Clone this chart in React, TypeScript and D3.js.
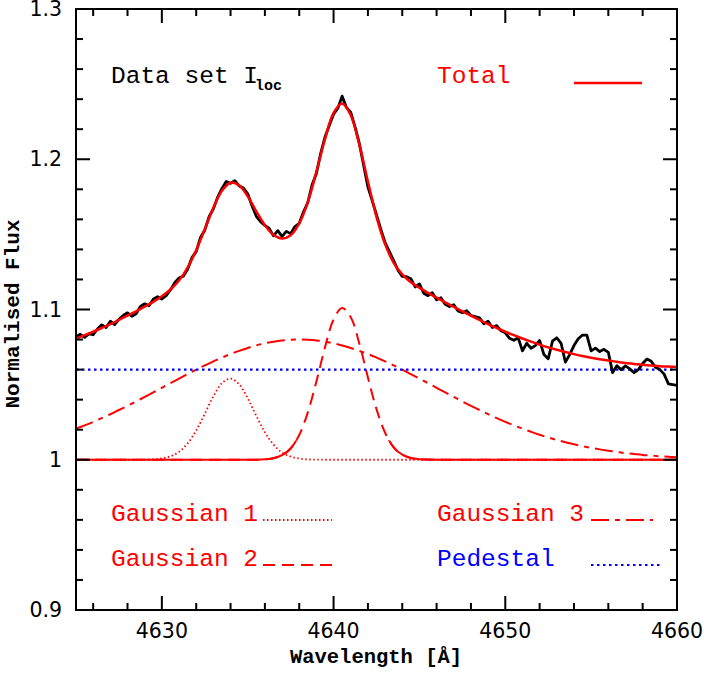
import React from 'react';
import * as d3 from 'd3';

// ---- chart values ----
const WAVE_DOMAIN = [4625, 4660];
const FLUX_DOMAIN = [0.9, 1.3];

// model components, sampled on a 0.5 A grid starting at 4625 A
const MODEL_START = 4625;
const MODEL_STEP = 0.5;
const CONTINUUM = 1.0;
const PEDESTAL = 0.06;

const gauss1 = [
  0, 0, 0, 0, 0, 0, 0, 0,
  0.0001, 0.0003, 0.0009, 0.0023, 0.0053, 0.0109, 0.0195, 0.0306, 0.0422, 0.0510,
  0.0540, 0.0502, 0.0409, 0.0292, 0.0183, 0.0101, 0.0048, 0.0021, 0.0008, 0.0002, 0.0001,
  0, 0, 0, 0, 0, 0, 0, 0, 0, 0, 0, 0, 0, 0, 0, 0, 0, 0, 0, 0, 0,
  0, 0, 0, 0, 0, 0, 0, 0, 0, 0, 0, 0, 0, 0, 0, 0, 0, 0, 0, 0, 0,
];

const gauss2 = [
  0, 0, 0, 0, 0, 0, 0, 0, 0, 0, 0, 0, 0, 0, 0, 0, 0, 0, 0, 0, 0, 0,
  0.0003, 0.0010, 0.0030, 0.0075, 0.0165, 0.0315, 0.0521, 0.0748, 0.0933, 0.1010,
  0.0949, 0.0774, 0.0548, 0.0337, 0.0180, 0.0083, 0.0034, 0.0012, 0.0004, 0.0001,
  0, 0, 0, 0, 0, 0, 0, 0, 0, 0, 0, 0, 0, 0, 0, 0, 0, 0, 0, 0, 0, 0, 0, 0, 0, 0, 0, 0, 0,
];

const gauss3 = [
  0.0207, 0.0229, 0.0252, 0.0277, 0.0303, 0.0331, 0.0359, 0.0388, 0.0418, 0.0448,
  0.0479, 0.0510, 0.0540, 0.0570, 0.0600, 0.0628, 0.0655, 0.0680, 0.0704, 0.0725,
  0.0744, 0.0761, 0.0775, 0.0786, 0.0794, 0.0798, 0.0800, 0.0798, 0.0794, 0.0786,
  0.0775, 0.0761, 0.0744, 0.0725, 0.0704, 0.0680, 0.0655, 0.0628, 0.0600, 0.0570,
  0.0540, 0.0510, 0.0479, 0.0448, 0.0418, 0.0388, 0.0359, 0.0331, 0.0303, 0.0277,
  0.0252, 0.0229, 0.0207, 0.0186, 0.0166, 0.0148, 0.0132, 0.0117, 0.0103, 0.0090,
  0.0079, 0.0069, 0.0060, 0.0052, 0.0044, 0.0038, 0.0032, 0.0028, 0.0023, 0.0020,
  0.0017,
];

// observed spectrum, 0.25 A steps from 4625 A
const DATA_START = 4625;
const DATA_STEP = 0.25;
const fluxIloc = [
  1.0818, 1.0835, 1.0815, 1.0838, 1.0832, 1.0870, 1.0898, 1.0880, 1.0922, 1.0900,
  1.0935, 1.0960, 1.0978, 1.0955, 1.0972, 1.1020, 1.1038, 1.1025, 1.1068, 1.1085,
  1.1070, 1.1092, 1.1130, 1.1178, 1.1210, 1.1222, 1.1268, 1.1345, 1.1385, 1.1480,
  1.1528, 1.1618, 1.1670, 1.1748, 1.1806, 1.1852, 1.1840, 1.1858, 1.1822, 1.1808,
  1.1770, 1.1690, 1.1620, 1.1585, 1.1560, 1.1540, 1.1490, 1.1525, 1.1487, 1.1520,
  1.1505, 1.1552, 1.1574, 1.1650, 1.1712, 1.1830, 1.1905, 1.2040, 1.2148, 1.2225,
  1.2300, 1.2340, 1.2420, 1.2345, 1.2312, 1.2215, 1.2105, 1.1960, 1.1815, 1.1725,
  1.1630, 1.1535, 1.1445, 1.1385, 1.1325, 1.1262, 1.1220, 1.1218, 1.1205, 1.1150,
  1.1170, 1.1108, 1.1092, 1.1112, 1.1065, 1.1078, 1.1035, 1.1020, 1.1032, 1.0990,
  1.0978, 1.0992, 1.0960, 1.0952, 1.0945, 1.0905, 1.0922, 1.0880, 1.0893, 1.0858,
  1.0845, 1.0808, 1.0795, 1.0812, 1.0725, 1.0775, 1.0742, 1.0760, 1.0794, 1.0700,
  1.0672, 1.0790, 1.0812, 1.0775, 1.0650, 1.0700, 1.0760, 1.0805, 1.0830, 1.0830,
  1.0725, 1.0743, 1.0720, 1.0735, 1.0715, 1.0580, 1.0626, 1.0600, 1.0625, 1.0605,
  1.0580, 1.0600, 1.0640, 1.0670, 1.0655, 1.0615, 1.0600, 1.0570, 1.0505, 1.0500,
  1.0495,
];

const xMajorTicks = [4630, 4640, 4650, 4660];
const xMinorTicks = [4626, 4628, 4632, 4634, 4636, 4638, 4642, 4644, 4646, 4648, 4652, 4654, 4656, 4658];
const yMajorTicks = [0.9, 1, 1.1, 1.2, 1.3];
const yMinorTicks = [0.92, 0.94, 0.96, 0.98, 1.02, 1.04, 1.06, 1.08, 1.12, 1.14, 1.16, 1.18, 1.22, 1.24, 1.26, 1.28];

// ---- layout ----
const W = 704;
const H = 675;
const LEFT = 76, RIGHT = 677, TOP = 9, BOTTOM = 610;
const RED = '#ff0000';
const BLUE = '#0000ff';
const MONO = '"Liberation Mono", "DejaVu Sans Mono", monospace';
const SANS = '"DejaVu Sans", sans-serif';

export default function App() {
  const x = d3.scaleLinear().domain(WAVE_DOMAIN).range([LEFT, RIGHT]);
  const y = d3.scaleLinear().domain(FLUX_DOMAIN).range([BOTTOM, TOP]);

  const modelWave = gauss1.map((_, i) => MODEL_START + i * MODEL_STEP);
  const dataWave = fluxIloc.map((_, i) => DATA_START + i * DATA_STEP);
  const total = gauss1.map((g, i) => CONTINUUM + PEDESTAL + g + gauss2[i] + gauss3[i]);

  const modelLine = d3.line<number>()
    .x((_, i) => x(modelWave[i]))
    .y(v => y(v))
    .curve(d3.curveCatmullRom.alpha(0.5));
  const offsetLine = (arr: number[]) => modelLine(arr.map(v => CONTINUUM + v)) || '';

  const dataLine = d3.line<number>()
    .x((_, i) => x(dataWave[i]))
    .y(v => y(v));

  const fmt = d3.format('~g');
  const MAJ = 14, MIN = 7;

  return (
    <svg width={W} height={H} style={{ position: 'absolute', left: 0, top: 0, background: '#fff' }}>
      <defs>
        <clipPath id="plot-clip">
          <rect x={LEFT} y={TOP} width={RIGHT - LEFT} height={BOTTOM - TOP} />
        </clipPath>
        {/* near the continuum the narrow component is drawn solid */}
        <clipPath id="base-clip">
          <rect x={LEFT} y={y(1.013)} width={RIGHT - LEFT} height={y(0.99) - y(1.013)} />
        </clipPath>
      </defs>

      <g clipPath="url(#plot-clip)" fill="none">
        {/* components */}
        <path d={offsetLine(gauss1)} stroke={RED} strokeWidth={1.8} strokeDasharray="1.5 2.5" />
        <path d={offsetLine(gauss2)} stroke={RED} strokeWidth={2} strokeDasharray="12 7" />
        <path d={offsetLine(gauss2)} stroke={RED} strokeWidth={2} clipPath="url(#base-clip)" />
        <path d={offsetLine(gauss3)} stroke={RED} strokeWidth={2} strokeDasharray="18 6 5 6" />
        <line x1={x(WAVE_DOMAIN[0])} x2={x(WAVE_DOMAIN[1])} y1={y(CONTINUUM + PEDESTAL)} y2={y(CONTINUUM + PEDESTAL)}
          stroke={BLUE} strokeWidth={2.2} strokeDasharray="2.5 3.5" />
        {/* data + total fit */}
        <path d={dataLine(fluxIloc) || ''} stroke="#000" strokeWidth={2.8} strokeLinejoin="round" />
        <path d={modelLine(total) || ''} stroke={RED} strokeWidth={2.5} />
      </g>

      {/* frame and ticks */}
      <g stroke="#000" strokeWidth={2}>
        <rect x={LEFT} y={TOP} width={RIGHT - LEFT} height={BOTTOM - TOP} fill="none" />
        {xMajorTicks.map(t => (
          <g key={'xM' + t}>
            <line x1={x(t)} x2={x(t)} y1={BOTTOM} y2={BOTTOM - MAJ} />
            <line x1={x(t)} x2={x(t)} y1={TOP} y2={TOP + MAJ} />
          </g>
        ))}
        {xMinorTicks.map(t => (
          <g key={'xm' + t}>
            <line x1={x(t)} x2={x(t)} y1={BOTTOM} y2={BOTTOM - MIN} />
            <line x1={x(t)} x2={x(t)} y1={TOP} y2={TOP + MIN} />
          </g>
        ))}
        {yMajorTicks.map(t => (
          <g key={'yM' + t}>
            <line x1={LEFT} x2={LEFT + MAJ} y1={y(t)} y2={y(t)} />
            <line x1={RIGHT} x2={RIGHT - MAJ} y1={y(t)} y2={y(t)} />
          </g>
        ))}
        {yMinorTicks.map(t => (
          <g key={'ym' + t}>
            <line x1={LEFT} x2={LEFT + MIN} y1={y(t)} y2={y(t)} />
            <line x1={RIGHT} x2={RIGHT - MIN} y1={y(t)} y2={y(t)} />
          </g>
        ))}
      </g>

      {/* tick labels */}
      <g fontFamily={SANS} fontSize={20.5} fill="#000">
        {xMajorTicks.map(t => (
          <text key={'xl' + t} x={x(t)} y={BOTTOM + 28} textAnchor="middle">{fmt(t)}</text>
        ))}
        {yMajorTicks.map(t => (
          <text key={'yl' + t} x={62} y={y(t) + 7} textAnchor="end">{fmt(t)}</text>
        ))}
      </g>

      {/* axis titles */}
      <text x={376} y={663} textAnchor="middle" fontFamily={MONO} fontWeight="bold" fontSize={20.5}>
        Wavelength [Å]
      </text>
      <text transform="translate(19,314) rotate(-90)" textAnchor="middle" fontFamily={MONO} fontWeight="bold" fontSize={21}>
        Normalised Flux
      </text>

      {/* annotations / legend */}
      <g fontFamily={MONO} fontSize={24.5}>
        <text x={111} y={83} fill="#000">
          Data set I<tspan fontSize={15} fontWeight="bold" dx={-3} dy={7}>loc</tspan>
        </text>
        <text x={437} y={83} fill={RED}>Total</text>
        <text x={111} y={521} fill={RED}>Gaussian 1</text>
        <text x={111} y={566} fill={RED}>Gaussian 2</text>
        <text x={437} y={521} fill={RED}>Gaussian 3</text>
        <text x={437} y={566} fill={BLUE}>Pedestal</text>
      </g>
      <line x1={574} x2={642} y1={83} y2={83} stroke={RED} strokeWidth={2.5} />
      <line x1={263} x2={332} y1={520} y2={520} stroke={RED} strokeWidth={1.8} strokeDasharray="1.5 2.5" />
      <line x1={263} x2={332} y1={565} y2={565} stroke={RED} strokeWidth={2} strokeDasharray="12 7" />
      <line x1={591} x2={653} y1={520} y2={520} stroke={RED} strokeWidth={2} strokeDasharray="18 6 5 6" />
      <line x1={591} x2={660} y1={565} y2={565} stroke={BLUE} strokeWidth={2.2} strokeDasharray="2.5 3.5" />
    </svg>
  );
}
